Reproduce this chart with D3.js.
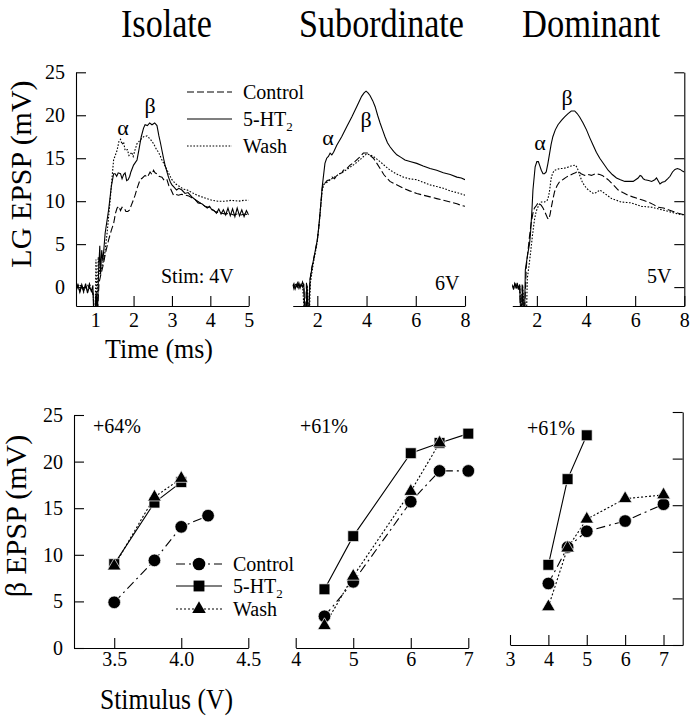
<!DOCTYPE html>
<html><head><meta charset="utf-8">
<script src="https://cdn.jsdelivr.net/npm/d3@7"></script>
<style>body{margin:0;background:#fff}text{font-family:"Liberation Serif","Times New Roman",serif;fill:#000}</style>
</head><body><svg id="c" width="692" height="720"></svg>
<script>
// ---------------- DATA ----------------
const titles = ["Isolate", "Subordinate", "Dominant"];
const seriesNames = ["Control", "5-HT", "Wash"];
const stimLabels = ["Stim: 4V", "6V", "5V"];
const percentLabels = ["+64%", "+61%", "+61%"];
const topYTicks = [0, 5, 10, 15, 20, 25];
const isoTimeTicks = [1, 2, 3, 4, 5];
const subTimeTicks = [2, 4, 6, 8];
const domTimeTicks = [2, 4, 6, 8];
const isoStimTicks = [3.5, 4.0, 4.5];
const subStimTicks = [4, 5, 6, 7];
const domStimTicks = [3, 4, 5, 6, 7];
const bottomYTicks = [0, 5, 10, 15, 20, 25];

// LG EPSP traces: [time (ms), mV]
const isoControl = [[0.5,-0.3],[0.55,0.3],[0.6,-0.5],[0.65,0.2],[0.7,-0.6],[0.75,0.1],[0.8,-0.4],[0.85,0.4],[0.9,-0.3],[0.95,-0.8],[0.97,-3],[1.0,-3],[1.03,-0.5],[1.06,-3],[1.1,0.5],[1.15,1.5],[1.2,2.4],[1.27,4],[1.35,5.5],[1.42,6.6],[1.48,7.4],[1.53,8.6],[1.57,9.2],[1.62,9.4],[1.66,8.9],[1.7,9.3],[1.76,9.2],[1.8,8.8],[1.85,8.8],[1.9,9.0],[1.93,9.4],[2.0,10.2],[2.04,10.7],[2.1,11.6],[2.17,12.5],[2.23,12.7],[2.3,13.0],[2.36,12.8],[2.43,13.4],[2.48,13.1],[2.52,13.6],[2.56,13.3],[2.6,13.2],[2.66,12.9],[2.74,12.8],[2.8,12.4],[2.87,12.5],[2.92,11.8],[2.96,11.5],[3.04,10.7],[3.1,10.8],[3.17,10.7],[3.25,10.8],[3.35,10.7],[3.44,10.6],[3.52,10.4],[3.6,10.2],[3.7,9.9],[3.78,9.7],[3.86,9.4],[3.95,9.3],[4.04,9.1],[4.12,8.8],[4.2,8.7],[4.3,8.6],[4.4,8.5],[4.5,8.6],[4.6,8.4],[4.7,8.5],[4.8,8.4],[4.9,8.5],[5.0,8.4]];
const iso5HT = [[0.5,-0.5],[0.55,0.2],[0.6,-0.6],[0.65,0.3],[0.7,-0.4],[0.75,0.4],[0.8,-0.7],[0.85,0.1],[0.9,-0.5],[0.94,0.2],[0.96,-3],[1.0,-3],[1.03,-1],[1.06,-3],[1.09,2],[1.12,4.8],[1.14,1.5],[1.17,4.3],[1.2,3.0],[1.26,6.3],[1.35,9.0],[1.42,11.7],[1.48,13.2],[1.52,13.2],[1.56,12.9],[1.6,13.3],[1.66,13.2],[1.7,12.6],[1.74,13.1],[1.78,13.3],[1.82,12.4],[1.86,12.5],[1.9,12.9],[1.93,13.4],[2.0,14.2],[2.09,14.8],[2.14,16.0],[2.2,17.5],[2.26,18.5],[2.3,18.9],[2.36,18.8],[2.42,19.1],[2.48,18.9],[2.55,19.1],[2.61,18.8],[2.66,17.6],[2.7,16.8],[2.74,15.9],[2.78,15.0],[2.82,14.2],[2.87,13.4],[2.91,12.8],[2.96,12.2],[3.0,11.9],[3.06,11.6],[3.12,11.3],[3.18,11.5],[3.26,11.3],[3.34,10.9],[3.42,11.0],[3.52,10.5],[3.6,10.2],[3.68,9.8],[3.78,9.7],[3.86,9.4],[3.92,9.2],[3.98,9.4],[4.04,9.0],[4.1,8.9],[4.16,8.6],[4.22,9.1],[4.28,8.5],[4.34,9.0],[4.4,8.4],[4.46,9.2],[4.52,8.3],[4.58,9.1],[4.64,8.2],[4.7,9.2],[4.76,8.3],[4.82,9.0],[4.88,8.2],[4.94,8.9],[5.0,8.4]];
const isoWash = [[0.5,-0.2],[0.6,0.3],[0.7,-0.4],[0.8,0.2],[0.9,-0.3],[0.95,-1],[0.97,-3],[1.0,-3],[1.02,3.2],[1.05,-2],[1.08,3.5],[1.12,1.5],[1.18,2.5],[1.24,3.5],[1.31,6.3],[1.39,10.1],[1.44,12.8],[1.48,14.8],[1.57,15.9],[1.62,17.0],[1.66,17.2],[1.7,16.6],[1.74,16.9],[1.78,15.9],[1.84,16.0],[1.88,15.3],[1.91,15.4],[1.95,15.7],[1.99,15.2],[2.04,16.0],[2.09,16.7],[2.17,17.1],[2.26,17.5],[2.35,17.6],[2.44,17.2],[2.52,16.7],[2.6,16.0],[2.65,15.7],[2.74,14.8],[2.83,14.0],[2.92,13.2],[3.0,12.5],[3.1,12.0],[3.2,11.7],[3.3,11.4],[3.4,11.3],[3.52,11.0],[3.65,10.7],[3.78,10.5],[3.9,10.3],[4.04,10.1],[4.2,10.0],[4.39,10.0],[4.55,10.1],[4.74,10.0],[4.88,10.1],[5.0,10.1]];

const subControl = [[1.0,0.3],[1.05,-0.2],[1.1,0.4],[1.15,0.1],[1.2,0.5],[1.25,-0.1],[1.3,0.3],[1.35,0.0],[1.4,0.6],[1.45,0.2],[1.48,-3],[1.52,-3],[1.56,0.5],[1.6,-3],[1.65,-3],[1.7,0.8],[1.77,2.2],[1.84,3.1],[1.92,4.2],[2.0,5.5],[2.06,7.0],[2.11,8.6],[2.16,10.2],[2.2,11.5],[2.25,12.2],[2.31,12.1],[2.4,12.4],[2.52,12.5],[2.6,12.8],[2.7,12.6],[2.79,13.0],[2.9,13.2],[3.0,13.3],[3.06,13.6],[3.2,13.8],[3.33,14.2],[3.45,14.4],[3.6,14.8],[3.75,15.2],[3.87,15.6],[4.03,15.6],[4.15,15.3],[4.28,15.0],[4.42,14.4],[4.55,13.8],[4.7,13.1],[4.82,12.7],[4.95,12.3],[5.09,12.1],[5.3,11.8],[5.5,11.5],[5.75,11.2],[6.04,10.9],[6.3,10.7],[6.58,10.5],[6.85,10.3],[7.12,10.1],[7.4,9.9],[7.67,9.7],[7.85,9.5],[8.0,9.4]];
const sub5HT = [[1.0,0.1],[1.05,0.4],[1.1,-0.2],[1.15,0.3],[1.2,0.0],[1.25,0.5],[1.3,-0.1],[1.35,0.3],[1.4,0.0],[1.45,0.4],[1.5,-3],[1.55,-3],[1.58,0.3],[1.62,-3],[1.66,-3],[1.7,0.8],[1.77,2.0],[1.84,3.1],[1.92,4.3],[2.0,5.5],[2.06,7.0],[2.11,8.6],[2.2,11.7],[2.31,14.4],[2.38,15.0],[2.45,15.2],[2.52,15.6],[2.59,15.4],[2.66,15.7],[2.79,16.5],[2.99,17.5],[3.2,18.7],[3.4,19.8],[3.6,21.0],[3.8,22.2],[3.9,22.6],[3.98,22.8],[4.06,22.6],[4.14,22.3],[4.25,21.7],[4.35,21.0],[4.45,20.0],[4.55,19.1],[4.65,18.3],[4.75,17.5],[4.85,16.8],[4.96,16.3],[5.1,15.8],[5.23,15.4],[5.4,15.1],[5.56,14.8],[5.8,14.6],[6.04,14.4],[6.3,14.1],[6.58,13.8],[6.85,13.6],[7.12,13.3],[7.4,13.1],[7.67,12.8],[7.85,12.7],[8.0,12.5]];
const subWash = [[1.0,0.2],[1.1,-0.1],[1.2,0.3],[1.3,0.0],[1.4,0.3],[1.47,-3],[1.55,-3],[1.6,0.2],[1.64,-3],[1.68,-3],[1.72,0.5],[1.84,2.8],[2.0,5.3],[2.11,8.4],[2.2,11.3],[2.28,12.0],[2.4,12.2],[2.52,12.5],[2.65,12.7],[2.8,13.0],[3.0,13.3],[3.2,13.7],[3.46,14.2],[3.64,14.6],[3.8,15.0],[4.0,15.5],[4.14,15.4],[4.28,15.2],[4.42,14.9],[4.55,14.6],[4.75,14.1],[4.96,13.6],[5.2,13.2],[5.5,12.8],[5.75,12.6],[6.04,12.5],[6.3,12.2],[6.58,11.9],[6.85,11.7],[7.12,11.5],[7.4,11.2],[7.67,11.0],[8.0,10.7]];

const domControl = [[1.0,0.3],[1.05,-0.2],[1.1,0.5],[1.15,0.0],[1.2,0.4],[1.25,-0.3],[1.3,0.2],[1.33,-3],[1.37,-3],[1.4,0.3],[1.45,-3],[1.5,-3],[1.57,2.4],[1.63,4.0],[1.7,5.9],[1.77,7.5],[1.84,8.6],[1.9,9.2],[1.98,9.5],[2.05,9.8],[2.11,9.7],[2.18,9.5],[2.25,9.2],[2.32,8.8],[2.38,8.4],[2.44,8.0],[2.49,7.9],[2.54,8.5],[2.59,9.3],[2.65,10.2],[2.72,11.1],[2.82,11.8],[2.93,12.3],[3.05,12.5],[3.2,12.8],[3.33,13.0],[3.47,13.2],[3.57,13.3],[3.67,13.5],[3.8,13.2],[3.95,13.0],[4.1,13.1],[4.22,13.0],[4.4,13.2],[4.56,13.1],[4.66,13.0],[4.76,12.8],[4.9,12.5],[5.04,12.1],[5.18,11.7],[5.31,11.3],[5.5,11.0],[5.71,10.7],[5.9,10.5],[6.12,10.3],[6.33,10.1],[6.53,9.9],[6.75,9.6],[6.94,9.3],[7.15,9.2],[7.35,9.0],[7.55,8.8],[7.76,8.6],[8.0,8.4]];
const dom5HT = [[1.0,0.2],[1.05,-0.3],[1.1,0.4],[1.15,0.0],[1.2,0.5],[1.25,-0.2],[1.3,0.3],[1.34,-3],[1.38,-3],[1.42,0.2],[1.46,-3],[1.5,-3],[1.53,2.0],[1.63,3.9],[1.7,5.0],[1.74,6.2],[1.8,9.0],[1.84,11.3],[1.93,14.0],[2.0,14.6],[2.06,14.6],[2.11,14.2],[2.18,13.6],[2.25,13.2],[2.31,13.2],[2.38,13.4],[2.45,14.4],[2.52,15.6],[2.58,16.6],[2.65,17.5],[2.75,18.3],[2.86,18.9],[3.0,19.4],[3.13,19.8],[3.27,20.2],[3.4,20.5],[3.54,20.5],[3.64,20.2],[3.74,19.8],[3.88,19.1],[4.02,18.3],[4.15,17.4],[4.29,16.5],[4.42,15.7],[4.56,15.0],[4.73,14.3],[4.9,13.6],[5.07,13.1],[5.24,12.7],[5.4,12.5],[5.58,12.3],[5.75,12.3],[5.92,12.3],[6.02,12.5],[6.12,12.7],[6.2,13.0],[6.26,12.9],[6.33,12.6],[6.4,12.5],[6.55,12.4],[6.67,12.3],[6.8,12.5],[6.87,12.7],[6.93,12.4],[7.01,12.0],[7.1,12.2],[7.21,12.3],[7.32,12.6],[7.42,12.9],[7.52,13.4],[7.62,13.7],[7.72,13.8],[7.83,13.7],[7.92,13.5],[8.0,13.4]];
const domWash = [[1.0,0.0],[1.1,0.3],[1.2,-0.2],[1.3,0.2],[1.36,-3],[1.42,0.1],[1.5,-3],[1.58,-3],[1.61,1.0],[1.68,2.5],[1.74,3.9],[1.82,6.0],[1.9,7.8],[1.97,8.8],[2.04,9.3],[2.11,9.7],[2.18,9.9],[2.31,9.9],[2.42,10.1],[2.48,10.6],[2.52,11.3],[2.56,12.2],[2.59,12.8],[2.65,13.3],[2.72,13.6],[2.82,13.7],[2.93,13.8],[3.05,13.8],[3.2,13.9],[3.4,14.1],[3.57,14.2],[3.64,13.9],[3.7,13.4],[3.77,12.8],[3.84,12.3],[3.92,11.9],[4.02,11.5],[4.15,11.2],[4.29,10.9],[4.42,11.0],[4.56,11.3],[4.66,11.1],[4.76,10.9],[4.9,10.6],[5.04,10.3],[5.24,10.1],[5.44,9.9],[5.65,9.85],[5.85,9.8],[6.05,9.6],[6.26,9.4],[6.47,9.35],[6.67,9.3],[6.88,9.15],[7.08,9.0],[7.3,8.85],[7.49,8.7],[7.75,8.5],[8.0,8.4]];

// beta EPSP vs stimulus
const isoStimControl = [3.5, 3.8, 4.0, 4.2], isoBetaControl = [4.9, 9.4, 13.0, 14.2];
const isoStim5HT = [3.5, 3.8, 4.0],          isoBeta5HT = [9.0, 15.6, 17.8];
const isoStimWash = [3.5, 3.8, 4.0],         isoBetaWash = [8.8, 16.2, 18.2];
const subStimControl = [4.5, 5, 6, 6.5, 7],  subBetaControl = [3.4, 7.1, 15.7, 19.0, 19.0];
const subStim5HT = [4.5, 5, 6, 6.5, 7],      subBeta5HT = [6.3, 12.0, 20.9, 22.0, 23.0];
const subStimWash = [4.5, 5, 6, 6.5],        subBetaWash = [2.4, 7.7, 16.8, 22.0];
const domStimControl = [4, 4.5, 5, 6, 7],    domBetaControl = [6.6, 10.5, 12.2, 13.3, 15.1];
const domStim5HT = [4, 4.5, 5],              domBeta5HT = [8.6, 17.8, 22.5];
const domStimWash = [4, 4.5, 5, 6, 7],       domBetaWash = [4.1, 10.4, 13.5, 15.7, 16.1];

// ---------------- DRAWING ----------------
const svg = d3.select("#c");
const FONT = '"Liberation Serif","Times New Roman",serif';
const topDash = {Control: "7,3", "5-HT": null, Wash: "1.6,1.6"};
const botDash = {Control: "9,4,2,4", "5-HT": null, Wash: "2,2"};
const symbols = {Control: d3.symbolCircle, "5-HT": d3.symbolSquare, Wash: d3.symbolTriangle};
const symSize = {Control: 125, "5-HT": 118, Wash: 80};

function styleAxis(g, size) {
  g.selectAll("path,line").attr("stroke", "#000").attr("stroke-width", 1.1);
  g.selectAll("text").attr("font-family", FONT).attr("font-size", size).attr("fill", "#000");
  g.attr("font-family", null);
}

// ---- top panels ----
const yTop = d3.scaleLinear().domain([-2.2, 25]).range([306, 72.3]);
const topPanels = [
  {x: d3.scaleLinear().domain([0.5, 5]).range([76, 248.7]), ticks: isoTimeTicks, data: [isoControl, iso5HT, isoWash], axisY: "left"},
  {x: d3.scaleLinear().domain([1, 8]).range([292.7, 465]), ticks: subTimeTicks, data: [subControl, sub5HT, subWash], axisY: null},
  {x: d3.scaleLinear().domain([1, 8]).range([512.3, 684.3]), ticks: domTimeTicks, data: [domControl, dom5HT, domWash], axisY: "right"}
];
topPanels.forEach((p, i) => {
  const [x0, x1] = p.x.range();
  const clipId = "clipT" + i;
  svg.append("clipPath").attr("id", clipId).append("rect")
    .attr("x", x0).attr("y", 40).attr("width", x1 - x0).attr("height", yTop(-2.2) - 40);
  const gx = svg.append("g").attr("transform", `translate(0,${yTop(-2.2)})`)
    .call(d3.axisBottom(p.x).tickValues(p.ticks).tickSizeInner(-10).tickSizeOuter(0).tickPadding(7).tickFormat(d3.format("d")));
  styleAxis(gx, 20);
  if (p.axisY === "left") {
    const gy = svg.append("g").attr("transform", `translate(${x0},0)`)
      .call(d3.axisLeft(yTop).tickValues(topYTicks).tickSizeInner(-10).tickSizeOuter(0).tickPadding(11));
    styleAxis(gy, 20);
  } else if (p.axisY === "right") {
    const gy = svg.append("g").attr("transform", `translate(${x1},0)`)
      .call(d3.axisRight(yTop).tickValues(topYTicks).tickSizeInner(-10).tickSizeOuter(0).tickFormat(""));
    styleAxis(gy, 20);
  }
  const line = d3.line().x(d => p.x(d[0])).y(d => yTop(d[1]));
  p.data.forEach((arr, k) => {
    const name = seriesNames[k];
    svg.append("path").attr("clip-path", `url(#${clipId})`).attr("d", line(arr))
      .attr("fill", "none").attr("stroke", "#000").attr("stroke-width", 1.1)
      .attr("stroke-dasharray", topDash[name]);
  });
});

// ---- bottom panels ----
const bottomPanels = [
  {x: d3.scaleLinear().domain([3.2, 4.5]).range([74, 248.3]), y: d3.scaleLinear().domain([0, 25]).range([648, 415]), ticks: isoStimTicks, fmt: d3.format(".1f"),
   series: [[isoStimControl, isoBetaControl], [isoStim5HT, isoBeta5HT], [isoStimWash, isoBetaWash]], axisY: "left"},
  {x: d3.scaleLinear().domain([4, 7]).range([295.7, 468.3]), y: d3.scaleLinear().domain([0, 25]).range([648, 415]), ticks: subStimTicks, fmt: d3.format("d"),
   series: [[subStimControl, subBetaControl], [subStim5HT, subBeta5HT], [subStimWash, subBetaWash]], axisY: null},
  {x: d3.scaleLinear().domain([3, 7.5]).range([510, 682.7]), y: d3.scaleLinear().domain([0, 25]).range([645, 412]), ticks: domStimTicks, fmt: d3.format("d"),
   series: [[domStimControl, domBetaControl], [domStim5HT, domBeta5HT], [domStimWash, domBetaWash]], axisY: "right"}
];
bottomPanels.forEach((p, i) => {
  const [x0, x1] = p.x.range();
  const gx = svg.append("g").attr("transform", `translate(0,${p.y(0)})`)
    .call(d3.axisBottom(p.x).tickValues(p.ticks).tickSizeInner(-10).tickSizeOuter(0).tickPadding(i === 2 ? 7 : 4).tickFormat(p.fmt));
  styleAxis(gx, 20);
  if (p.axisY === "left") {
    const gy = svg.append("g").attr("transform", `translate(${x0},0)`)
      .call(d3.axisLeft(p.y).tickValues(bottomYTicks).tickSizeInner(-10).tickSizeOuter(0).tickPadding(11));
    styleAxis(gy, 20);
  } else if (p.axisY === "right") {
    const gy = svg.append("g").attr("transform", `translate(${x1},0)`)
      .call(d3.axisRight(p.y).tickValues(bottomYTicks).tickSizeInner(-10).tickSizeOuter(0).tickFormat(""));
    styleAxis(gy, 20);
  }
  const line = d3.line().x(d => p.x(d[0])).y(d => p.y(d[1]));
  p.series.forEach(([xs, ys], k) => {
    const name = seriesNames[k];
    svg.append("path").attr("d", line(xs.map((v, j) => [v, ys[j]])))
      .attr("fill", "none").attr("stroke", "#000").attr("stroke-width", 1.1)
      .attr("stroke-dasharray", botDash[name]);
  });
  p.series.forEach(([xs, ys], k) => {
    const name = seriesNames[k];
    svg.selectAll(null).data(xs.map((v, j) => [v, ys[j]])).enter().append("path")
      .attr("d", d3.symbol().type(symbols[name]).size(symSize[name]))
      .attr("transform", d => `translate(${p.x(d[0])},${p.y(d[1])})`)
      .attr("fill", "#000").attr("stroke", "#fff").attr("stroke-width", 0.7);
  });
});

// ---- text ----
const titlePos = [[121, 91], [299, 165], [522, 138]];
titles.forEach((t, i) => {
  svg.append("text").attr("x", titlePos[i][0]).attr("y", 37).attr("font-size", 40)
    .attr("textLength", titlePos[i][1]).attr("lengthAdjust", "spacingAndGlyphs").text(t);
});
// alpha/beta markers
const greek = [["α", 123, 135], ["β", 150, 113], ["α", 328, 145], ["β", 366, 127], ["α", 540, 150], ["β", 567, 105]];
greek.forEach(g => svg.append("text").attr("x", g[1]).attr("y", g[2]).attr("text-anchor", "middle").attr("font-size", 22).text(g[0]));
// stim labels
svg.append("text").attr("x", 161).attr("y", 283).attr("font-size", 20).text(stimLabels[0]);
svg.append("text").attr("x", 435).attr("y", 290).attr("font-size", 20).text(stimLabels[1]);
svg.append("text").attr("x", 647).attr("y", 283).attr("font-size", 20).text(stimLabels[2]);
// percent labels
svg.append("text").attr("x", 93).attr("y", 433).attr("font-size", 20).text(percentLabels[0]);
svg.append("text").attr("x", 300).attr("y", 433).attr("font-size", 20).text(percentLabels[1]);
svg.append("text").attr("x", 527).attr("y", 435).attr("font-size", 20).text(percentLabels[2]);
// axis titles
svg.append("text").attr("transform", "translate(31,174) rotate(-90)").attr("text-anchor", "middle").attr("font-size", 30).text("LG EPSP (mV)");
svg.append("text").attr("transform", "translate(26,516) rotate(-90)").attr("text-anchor", "middle").attr("font-size", 30).text("β EPSP (mV)");
svg.append("text").attr("x", 105).attr("y", 358).attr("font-size", 28).attr("textLength", 108).attr("lengthAdjust", "spacingAndGlyphs").text("Time (ms)");
svg.append("text").attr("x", 100).attr("y", 709).attr("font-size", 29).attr("textLength", 133).attr("lengthAdjust", "spacingAndGlyphs").text("Stimulus (V)");

// legends
function legendLabel(sel, name) {
  if (name === "5-HT") {
    sel.text("5-HT");
    sel.append("tspan").attr("dy", 5).attr("font-size", 13).text("2");
  } else sel.text(name);
}
const topLegY = [92, 119, 146];
seriesNames.forEach((name, k) => {
  svg.append("line").attr("x1", 187).attr("x2", 232).attr("y1", topLegY[k]).attr("y2", topLegY[k])
    .attr("stroke", "#000").attr("stroke-width", 1.1).attr("stroke-dasharray", topDash[name]);
  legendLabel(svg.append("text").attr("x", 243).attr("y", topLegY[k] + 7).attr("font-size", 20), name);
});
const botLegY = [564, 586, 609];
seriesNames.forEach((name, k) => {
  svg.append("line").attr("x1", 176).attr("x2", 222).attr("y1", botLegY[k]).attr("y2", botLegY[k])
    .attr("stroke", "#000").attr("stroke-width", 1.1).attr("stroke-dasharray", botDash[name]);
  svg.append("path").attr("d", d3.symbol().type(symbols[name]).size(symSize[name]))
    .attr("transform", `translate(199,${botLegY[k]})`).attr("fill", "#000");
  legendLabel(svg.append("text").attr("x", 233).attr("y", botLegY[k] + 7).attr("font-size", 20), name);
});
</script></body></html>
